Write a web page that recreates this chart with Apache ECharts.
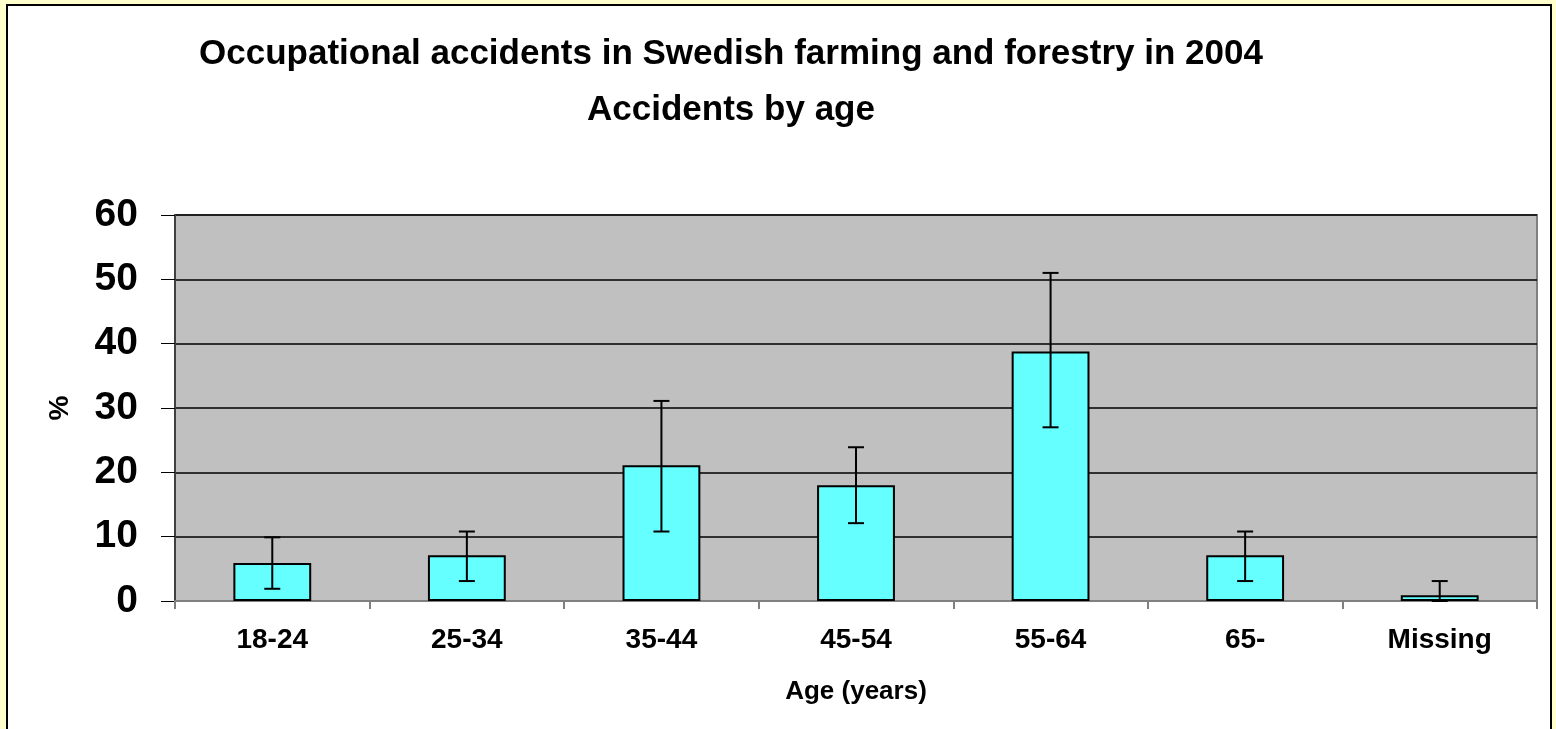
<!DOCTYPE html>
<html>
<head>
<meta charset="utf-8">
<script src="https://cdn.jsdelivr.net/npm/echarts@6/dist/echarts.min.js"></script>
<style>
  html, body { margin: 0; padding: 0; background: #ffffcc; overflow: hidden; }
  .frame {
    position: absolute; left: 6px; top: 4px; width: 1546px; height: 740px;
    background: #ffffff; border: 2px solid #000000; box-sizing: border-box;
  }
  #chart { position: absolute; left: 0; top: 0; width: 1556px; height: 729px; }
</style>
</head>
<body>
<div class="frame"></div>
<div id="chart"></div>
<script>
  // age groups on the x axis
  var categories = ['18-24', '25-34', '35-44', '45-54', '55-64', '65-', 'Missing'];
  // share of accidents (%)
  var values = [5.9, 7.1, 21.1, 18.0, 38.8, 7.1, 0.9];
  // error bar ends (%)
  var errLow = [1.9, 3.1, 10.8, 12.1, 27.0, 3.1, 0.0];
  var errHigh = [9.9, 10.8, 31.1, 23.9, 51.0, 10.8, 3.1];

  var chart = echarts.init(document.getElementById('chart'));
  var font = 'Liberation Sans, Arial, sans-serif';

  // error bar with caps, drawn through the y axis scale
  function renderError(params, api) {
    var lo = api.coord([api.value(0), api.value(1)]);
    var hi = api.coord([api.value(0), api.value(2)]);
    var cap = 8;
    var style = { stroke: '#000', lineWidth: 2 };
    return {
      type: 'group',
      children: [
        { type: 'line', shape: { x1: hi[0], y1: hi[1], x2: lo[0], y2: lo[1] }, style: style },
        { type: 'line', shape: { x1: hi[0] - cap, y1: hi[1], x2: hi[0] + cap, y2: hi[1] }, style: style },
        { type: 'line', shape: { x1: lo[0] - cap, y1: lo[1], x2: lo[0] + cap, y2: lo[1] }, style: style }
      ]
    };
  }

  var option = {
    animation: false,
    title: {
      text: 'Occupational accidents in Swedish farming and forestry in 2004\nAccidents by age',
      left: 726,
      textAlign: 'center',
      top: 21,
      textStyle: { fontFamily: font, fontSize: 35, fontWeight: 'bold', color: '#000', lineHeight: 56 }
    },
    grid: { left: 175, right: 19, top: 215, bottom: 128, show: true, backgroundColor: '#c0c0c0', borderColor: '#808080', borderWidth: 2 },
    xAxis: {
      type: 'category',
      data: categories,
      name: 'Age (years)',
      nameLocation: 'middle',
      nameGap: 78,
      nameTextStyle: { fontFamily: font, fontSize: 26, fontWeight: 'bold', color: '#000' },
      axisLine: { lineStyle: { color: '#808080', width: 2 } },
      axisTick: { show: true, length: 8, lineStyle: { color: '#808080', width: 2 } },
      axisLabel: { fontFamily: font, fontSize: 28, fontWeight: 'bold', color: '#000', margin: 25 }
    },
    yAxis: {
      type: 'value',
      min: 0, max: 60, interval: 10,
      name: '%',
      nameLocation: 'middle',
      nameGap: 101,
      nameRotate: 90,
      nameTextStyle: { fontFamily: font, fontSize: 28, fontWeight: 'bold', color: '#000' },
      axisLine: { show: true, lineStyle: { color: '#404040', width: 2 } },
      axisTick: { show: true, length: 14, lineStyle: { color: '#000', width: 1 } },
      axisLabel: { fontFamily: font, fontSize: 39, fontWeight: 'bold', color: '#000', margin: 37 },
      splitLine: { lineStyle: { color: '#000', width: 1.5 } }
    },
    series: [
      {
        type: 'bar',
        data: values,
        barWidth: '40%',
        itemStyle: { color: '#66ffff', borderColor: '#000', borderWidth: 2 }
      },
      {
        type: 'custom',
        renderItem: renderError,
        data: categories.map(function (c, i) { return [i, errLow[i], errHigh[i]]; }),
        encode: { x: 0, y: [1, 2] },
        z: 10
      }
    ]
  };

  chart.setOption(option);
</script>
</body>
</html>
